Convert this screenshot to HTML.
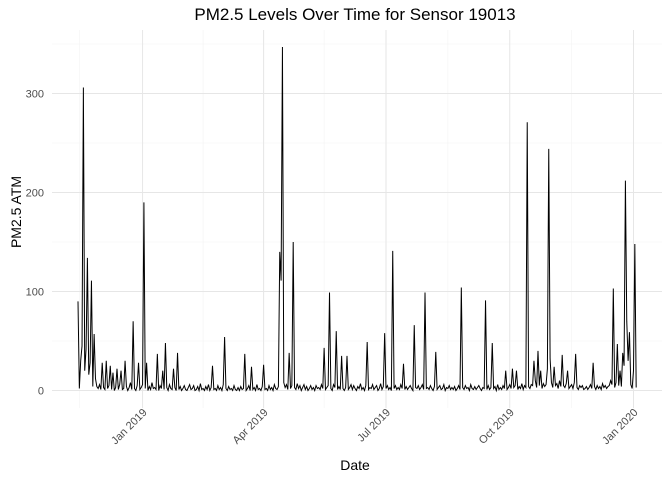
<!DOCTYPE html>
<html><head><meta charset="utf-8"><style>
body{margin:0;background:#fff;font-family:"Liberation Sans",Arial,sans-serif}
svg text{font-family:"Liberation Sans",Arial,sans-serif}
</style></head><body>
<svg id="chart" width="672" height="480" viewBox="0 0 672 480" xmlns="http://www.w3.org/2000/svg">
<g id="grid"></g>
<g id="axes"></g>
<path id="series" fill="none" stroke="#000" stroke-width="1" stroke-linejoin="miter"/>
<text x="355" y="20" font-size="17" text-anchor="middle" fill="#000">PM2.5 Levels Over Time for Sensor 19013</text>
<text x="355" y="470" font-size="14" text-anchor="middle" fill="#000">Date</text>
<text transform="translate(21,212) rotate(-90)" font-size="14" text-anchor="middle" fill="#000">PM2.5 ATM</text>
</svg>
<script>
const startDate = "2018-11-14";
const pm25Values = [
90,2,30,45,306,20,42,134,16,28,111,4,57,12,4,2,6,1,28,3,
1,30,2,5,25,1,18,0,3,22,1,6,20,1,2,30,4,0,3,8,
1,70,2,0,5,28,1,3,6,190,2,28,0,4,1,8,2,3,1,37,
0,5,2,20,1,48,3,0,6,2,1,22,3,0,38,1,4,0,2,5,
1,0,3,6,1,2,5,0,1,4,0,7,1,2,0,4,1,6,0,3,
25,1,2,0,5,1,3,0,6,54,2,0,4,1,2,0,5,1,0,3,
0,4,1,2,37,0,2,5,0,24,1,3,0,6,1,2,0,4,26,1,
2,0,5,1,3,0,6,2,1,4,140,111,347,8,3,6,1,38,2,5,
150,3,1,7,2,5,0,3,6,1,4,0,2,5,1,3,0,5,2,3,
1,6,2,43,1,3,5,99,2,0,6,3,60,1,4,1,35,2,0,3,
35,1,3,6,1,5,2,0,4,2,7,1,3,0,5,49,1,3,2,6,
1,3,5,0,2,7,1,4,58,2,5,1,3,0,141,2,5,1,3,1,
6,2,27,1,4,1,3,5,2,0,66,3,2,5,1,3,6,1,99,2,
3,1,5,2,0,4,39,1,3,5,1,2,6,0,3,2,5,1,3,1,
4,0,2,5,1,104,3,1,5,2,3,0,6,2,1,4,1,3,5,2,
0,3,2,91,1,5,1,3,48,2,4,0,6,1,3,1,5,2,20,1,
3,6,2,22,3,5,20,1,4,2,7,1,5,3,271,4,2,6,5,30,
10,3,40,5,20,2,7,4,6,22,244,32,8,3,24,5,7,2,10,4,
36,5,3,7,20,2,4,6,2,8,37,3,1,5,3,5,1,2,4,1,
3,6,2,28,4,1,5,2,4,1,7,3,5,2,4,5,10,6,103,3,
8,47,5,20,4,38,25,212,70,30,59,6,2,20,148,3
];
const xTickDates = ["2019-01-01","2019-04-01","2019-07-01","2019-10-01","2020-01-01"];
const xTickLabels = ["Jan 2019","Apr 2019","Jul 2019","Oct 2019","Jan 2020"];
const xMinorDates = ["2018-11-15","2019-02-15","2019-05-16","2019-08-16","2019-11-16"];
const yTicks = [0,100,200,300];
const yMinor = [50,150,250,350];

const NS="http://www.w3.org/2000/svg";
const L=52,R=662,T=30,B=408;
const DAY=86400000, t0=Date.parse(startDate);
function xDay(d){return 78+d*1.345;}
function xDate(s){return xDay((Date.parse(s)-t0)/DAY);}
function y(v){return 390.5-v*0.99;}
const grid=document.getElementById('grid'), axes=document.getElementById('axes');
function line(x1,y1,x2,y2,c,w){const l=document.createElementNS(NS,'line');
l.setAttribute('x1',x1);l.setAttribute('y1',y1);l.setAttribute('x2',x2);l.setAttribute('y2',y2);
l.setAttribute('stroke',c);l.setAttribute('stroke-width',w);grid.appendChild(l);return l;}
yMinor.forEach(v=>{const l=line(L,y(v),R,y(v),'#f3f3f3',0.6);

});
xMinorDates.forEach(s=>{const l=line(xDate(s),T,xDate(s),B,'#f3f3f3',0.6);

});
yTicks.forEach(v=>{const l=line(L,y(v),R,y(v),'#e6e6e6',1);


const t=document.createElementNS(NS,'text');
t.setAttribute('x',44);t.setAttribute('y',y(v)+4);t.setAttribute('text-anchor','end');
t.setAttribute('font-size','11');t.setAttribute('fill','#4d4d4d');t.textContent=v;


axes.appendChild(t);});
xTickDates.forEach((s,i)=>{const x=xDate(s);const l=line(x,T,x,B,'#e6e6e6',1);


const t=document.createElementNS(NS,'text');
t.setAttribute('transform','translate('+(x+5)+',413) rotate(-45)');
t.setAttribute('text-anchor','end');t.setAttribute('font-size','11');t.setAttribute('fill','#4d4d4d');
t.textContent=xTickLabels[i];


axes.appendChild(t);});
let d='';
pm25Values.forEach((v,i)=>{d+=(i?'L':'M')+xDay(i).toFixed(2)+','+y(v).toFixed(2);});
document.getElementById('series').setAttribute('d',d);
</script>
</body></html>
